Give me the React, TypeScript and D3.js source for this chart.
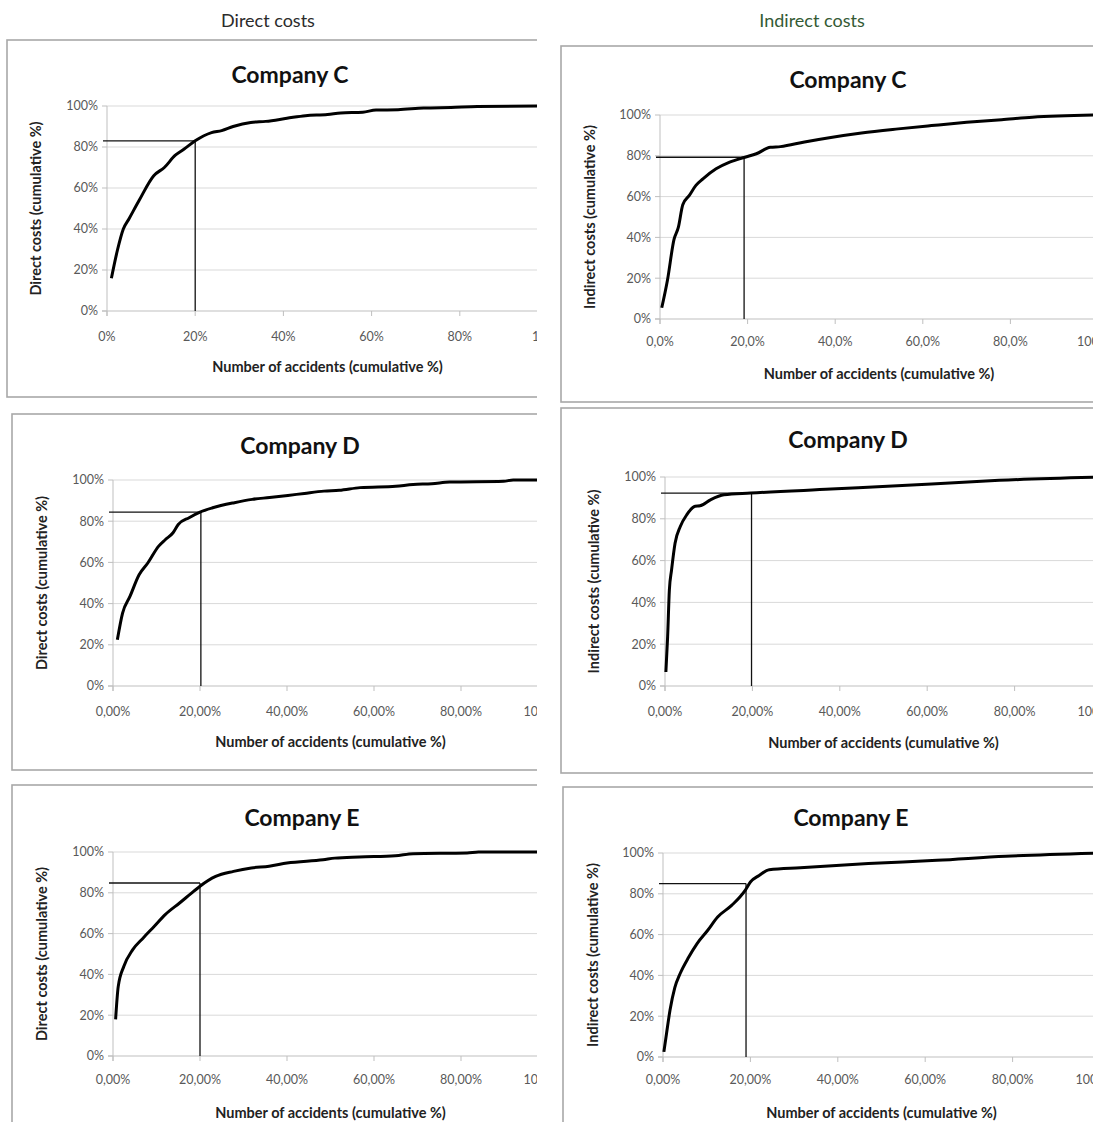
import React, { useEffect, useRef } from "react";
import * as d3 from "d3";

// cumulative % of accidents vs cumulative % of costs
const directC = [[1, 16], [2.4, 30], [3.7, 40], [5, 45], [7.3, 54], [10.6, 66], [13, 70], [15.5, 76], [17.5, 79], [20, 83], [23.7, 87], [26, 88], [28.6, 90], [32.6, 92], [36, 92.5], [40.8, 94], [45, 95.3], [50, 95.8], [53, 96.6], [58, 97], [61, 98], [66, 98.2], [71.8, 99], [78, 99.3], [84, 99.7], [100, 100]];
const indirectC = [[0.4, 5.5], [1.7, 19], [3.2, 39], [4.2, 45], [5.2, 56], [6.7, 60.6], [8.2, 65.5], [9.8, 68.7], [12.8, 73.6], [15.9, 76.9], [19.4, 79.3], [22, 81], [25.2, 84.2], [27.5, 84.5], [33, 86.8], [39, 89], [46, 91.2], [54.4, 93.2], [62, 94.8], [70, 96.4], [78, 97.7], [85, 98.9], [100, 100]];
const directD = [[1, 22.4], [2.2, 35.4], [3.9, 43.5], [6, 54], [8, 59.7], [10.5, 67.9], [12, 71], [13.8, 74.4], [15, 78.4], [17.5, 81.7], [20, 84.4], [22.9, 86.5], [27.9, 89], [32, 90.6], [36, 91.5], [40.2, 92.5], [44, 93.5], [48.5, 94.6], [52, 95], [56.8, 96.3], [65, 97], [69, 97.8], [73.3, 98.2], [77.4, 99], [89.8, 99.4], [92, 100], [100, 100]];
const indirectD = [[0.2, 6.7], [0.6, 23.5], [1, 46], [1.5, 55.5], [2.3, 68.3], [3.5, 76.3], [5, 82], [6.9, 86], [8, 86.2], [10.4, 89.1], [13.5, 91.5], [19.6, 92.3], [38, 94.2], [61, 96.6], [76.5, 98.4], [100, 100]];
const directE = [[0.6, 18], [1.2, 34], [2.5, 44], [4.5, 52], [7, 58], [9.5, 63.6], [12, 69.3], [15.3, 75], [18.6, 80.8], [20, 83.2], [23.6, 88], [27.7, 90.5], [31.8, 92.2], [35.9, 93], [40, 94.6], [48.3, 96.2], [51, 97], [56.6, 97.6], [64.9, 98.2], [69, 99.2], [81.4, 99.5], [84, 100], [100, 100]];
const indirectE = [[0.2, 2.5], [0.8, 11.4], [1.6, 22.9], [2.7, 34], [3.9, 40.8], [5.9, 49], [7.8, 55.6], [10.2, 62], [12.5, 68.6], [15.7, 74.3], [18.8, 81.7], [20, 85.8], [22, 89], [24.3, 91.8], [31.4, 92.8], [47, 94.8], [62.7, 96.4], [78.4, 98.4], [100, 100]];

// 20% cut-off markers [x, y]
const refDirectC = [20, 83];
const refIndirectC = [19.2, 79.3];
const refDirectD = [20.2, 84.4];
const refIndirectD = [19.8, 92.3];
const refDirectE = [20, 84.8];
const refIndirectE = [19, 85];

const tickValues = [0, 20, 40, 60, 80, 100];
const yTickLabels = ["0%", "20%", "40%", "60%", "80%", "100%"];
const xLabelsPct = ["0%", "20%", "40%", "60%", "80%", "100%"];
const xLabels1 = ["0,0%", "20,0%", "40,0%", "60,0%", "80,0%", "100,0%"];
const xLabels2 = ["0,00%", "20,00%", "40,00%", "60,00%", "80,00%", "100,00%"];

const panels = [
  { title: "Company C", yLabel: "Direct costs (cumulative %)", data: directC, ref: refDirectC, xLabels: xLabelsPct,
    frame: [7, 40, 537, 397], x0: 107, x100: 548, y0: 311, y100: 106, titleX: 290, titleY: 75, tickY: 337, axisY: 367, yTitleX: 36 },
  { title: "Company C", yLabel: "Indirect costs (cumulative %)", data: indirectC, ref: refIndirectC, xLabels: xLabels1,
    frame: [561, 46, 1093, 402], x0: 660, x100: 1098, y0: 319, y100: 115, titleX: 848, titleY: 80, tickY: 342, axisY: 374, yTitleX: 590 },
  { title: "Company D", yLabel: "Direct costs (cumulative %)", data: directD, ref: refDirectD, xLabels: xLabels2,
    frame: [12, 414, 537, 770], x0: 113, x100: 548, y0: 686, y100: 480, titleX: 300, titleY: 446, tickY: 712, axisY: 742, yTitleX: 42 },
  { title: "Company D", yLabel: "Indirect costs (cumulative %)", data: indirectD, ref: refIndirectD, xLabels: xLabels2,
    frame: [561, 408, 1093, 773], x0: 665, x100: 1102, y0: 686, y100: 477, titleX: 848, titleY: 440, tickY: 712, axisY: 743, yTitleX: 594 },
  { title: "Company E", yLabel: "Direct costs (cumulative %)", data: directE, ref: refDirectE, xLabels: xLabels2,
    frame: [12, 785, 537, 1130], x0: 113, x100: 548, y0: 1056, y100: 852, titleX: 302, titleY: 818, tickY: 1080, axisY: 1113, yTitleX: 42 },
  { title: "Company E", yLabel: "Indirect costs (cumulative %)", data: indirectE, ref: refIndirectE, xLabels: xLabels2,
    frame: [563, 787, 1093, 1130], x0: 663, x100: 1100, y0: 1057, y100: 853, titleX: 851, titleY: 818, tickY: 1080, axisY: 1113, yTitleX: 593 },
];

const FONT = "Lato, 'Open Sans', sans-serif";

const App = () => {
  const ref = useRef(null);

  useEffect(() => {
    const width = 1093;
    const height = 1122;
    const svg = d3.select(ref.current);
    svg.attr("width", width).attr("height", height).attr("viewBox", [0, 0, width, height]);
    svg.selectAll("*").remove();

    svg.append("rect").attr("width", width).attr("height", height).attr("fill", "#fff");

    svg.append("text").attr("x", 268).attr("y", 27).attr("text-anchor", "middle")
      .attr("font-family", FONT).attr("font-size", 18).attr("fill", "#2b2b2b").text("Direct costs");
    svg.append("text").attr("x", 812).attr("y", 27).attr("text-anchor", "middle")
      .attr("font-family", FONT).attr("font-size", 18).attr("fill", "#345a34").text("Indirect costs");

    const defs = svg.append("defs");

    panels.forEach((p, i) => {
      const [fx0, fy0, fx1, fy1] = p.frame;
      defs.append("clipPath").attr("id", "clip" + i)
        .append("rect").attr("x", 0).attr("y", fy0 - 2).attr("width", fx1).attr("height", fy1 - fy0 + 4);

      const g = svg.append("g").attr("clip-path", `url(#clip${i})`);

      // chart frame (cropped on the right)
      g.append("rect").attr("x", fx0).attr("y", fy0).attr("width", fx1 - fx0 + 40).attr("height", fy1 - fy0)
        .attr("fill", "#fff").attr("stroke", "#a8a8a8").attr("stroke-width", 1.6);

      const x = d3.scaleLinear().domain([0, 100]).range([p.x0, p.x100]);
      const y = d3.scaleLinear().domain([0, 100]).range([p.y0, p.y100]);

      // gridlines
      g.append("g").selectAll("line").data(tickValues.slice(1)).join("line")
        .attr("x1", x(0)).attr("x2", x(100) + 20)
        .attr("y1", (d) => y(d)).attr("y2", (d) => y(d))
        .attr("stroke", "#d9d9d9").attr("stroke-width", 1);

      // axes
      g.append("line").attr("x1", x(0) - 5).attr("x2", x(100) + 20).attr("y1", y(0)).attr("y2", y(0))
        .attr("stroke", "#bfbfbf");
      g.append("line").attr("x1", x(0)).attr("x2", x(0)).attr("y1", y(0) + 5).attr("y2", y(100))
        .attr("stroke", "#bfbfbf");
      g.append("g").selectAll("line").data(tickValues).join("line")
        .attr("x1", x(0) - 5).attr("x2", x(0)).attr("y1", (d) => y(d)).attr("y2", (d) => y(d))
        .attr("stroke", "#bfbfbf");
      g.append("g").selectAll("line").data(tickValues).join("line")
        .attr("x1", (d) => x(d)).attr("x2", (d) => x(d)).attr("y1", y(0)).attr("y2", y(0) + 5)
        .attr("stroke", "#bfbfbf");

      g.append("g").selectAll("text").data(tickValues).join("text")
        .attr("x", x(0) - 9).attr("y", (d) => y(d)).attr("dy", "0.35em").attr("text-anchor", "end")
        .attr("font-family", FONT).attr("font-size", 12.5).attr("fill", "#595959")
        .text((d, j) => yTickLabels[j]);
      g.append("g").selectAll("text").data(tickValues).join("text")
        .attr("x", (d) => x(d)).attr("y", p.tickY).attr("dy", "0.35em").attr("text-anchor", "middle")
        .attr("font-family", FONT).attr("font-size", 12.5).attr("fill", "#595959")
        .text((d, j) => p.xLabels[j]);

      // titles
      g.append("text").attr("x", p.titleX).attr("y", p.titleY).attr("dy", "0.35em").attr("text-anchor", "middle")
        .attr("font-family", FONT).attr("font-size", 23).attr("font-weight", "bold").attr("fill", "#111")
        .text(p.title);
      g.append("text").attr("x", (x(0) + x(100)) / 2).attr("y", p.axisY).attr("dy", "0.35em").attr("text-anchor", "middle")
        .attr("font-family", FONT).attr("font-size", 14.5).attr("font-weight", "bold").attr("fill", "#222")
        .text("Number of accidents (cumulative %)");
      g.append("text")
        .attr("transform", `translate(${p.yTitleX},${(y(0) + y(100)) / 2}) rotate(-90)`)
        .attr("dy", "0.35em").attr("text-anchor", "middle")
        .attr("font-family", FONT).attr("font-size", 14.5).attr("font-weight", "bold").attr("fill", "#222")
        .text(p.yLabel);

      // 20% cut-off lines
      const [rx, ry] = p.ref;
      g.append("line").attr("x1", x(0) - 4).attr("x2", x(rx)).attr("y1", y(ry)).attr("y2", y(ry))
        .attr("stroke", "#111").attr("stroke-width", 1.3);
      g.append("line").attr("x1", x(rx)).attr("x2", x(rx)).attr("y1", y(ry)).attr("y2", y(0))
        .attr("stroke", "#111").attr("stroke-width", 1.3);

      // curve
      const line = d3.line().curve(d3.curveMonotoneX).x((d) => x(d[0])).y((d) => y(d[1]));
      g.append("path").datum(p.data).attr("d", line)
        .attr("fill", "none").attr("stroke", "#000").attr("stroke-width", 3)
        .attr("stroke-linejoin", "round").attr("stroke-linecap", "butt");
    });
  }, []);

  return <svg ref={ref} style={{ position: "absolute", left: 0, top: 0, display: "block" }}></svg>;
};

export default App;
